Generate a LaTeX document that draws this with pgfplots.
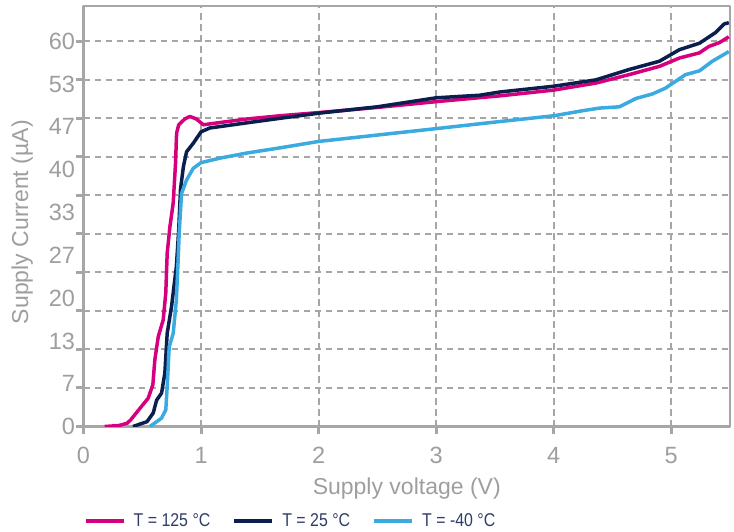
\documentclass[border=0pt]{standalone}
\usepackage{pgfplots}
\pgfplotsset{compat=1.18}
\usepackage{fontspec}
\setmainfont{Liberation Sans}
\newfontfamily\legfont{Liberation Sans}[FakeStretch=0.86]
\usetikzlibrary{calc}
\definecolor{gridgray}{HTML}{A6A6A6}
\definecolor{txtgray}{HTML}{9E9E9E}
\definecolor{stpink}{HTML}{D6007E}
\definecolor{stnavy}{HTML}{0B1F4F}
\definecolor{stblue}{HTML}{3AAAE1}
\definecolor{legtxt}{HTML}{2E3D69}
\begin{document}
\begin{tikzpicture}
\begin{axis}[
  scale only axis, width=646.5pt, height=420.5pt,
  xmin=0, xmax=5.5, ymin=0, ymax=65.5,
  /pgf/number format/assume math mode=true,
  axis line style={gridgray, line width=2.5pt},
  tick pos=left, tick align=outside,
  major tick length=7pt,
  tick style={gridgray, line width=3pt},
  xtick={0,1,2,3,4,5},
  ytick={0,6,...,60},
  yticklabels={,,,,,,,,,,},
  extra y ticks={0,6.6667,13.3333,20,26.6667,33.3333,40,46.6667,53.3333,60},
  extra y tick labels={0,7,13,20,27,33,40,47,53,60},
  extra y tick style={grid=none, major tick length=0pt, tick style={draw=none},
     yticklabel style={xshift=-5pt}},
  grid=major,
  major grid style={gridgray, line width=2pt, dash pattern=on 6.5pt off 4.5pt},
  ticklabel style={font=\fontsize{23.5}{27}\selectfont, text=txtgray},
  xticklabel style={yshift=-10pt},
  xlabel={Supply voltage (V)},
  ylabel={Supply Current (µA)},
  label style={font=\fontsize{23}{27}\selectfont, text=txtgray},
  xlabel style={yshift=-7pt},
  ylabel style={at={(ticklabel cs:0.486)}, yshift=2pt},
  legend columns=3,
  legend style={draw=none, fill=none, at={(0,0)}, anchor=west, yshift=-94.2pt,
     inner sep=0pt, font=\legfont\fontsize{18.5}{22}\selectfont, text=legtxt,
     nodes={inner xsep=0pt, inner ysep=2pt}},
  legend image code/.code={\draw[line width=4pt] (0pt,0pt) -- (38pt,0pt);},
  /tikz/every odd column/.append style={column sep=8pt},
  /tikz/every even column/.append style={column sep=22pt},
  line join=round,
]
\addplot[stpink, line width=3.5pt] coordinates {
(0.18,0) (0.30,0.15) (0.37,0.5) (0.40,1.0) (0.47,2.6) (0.55,4.4) (0.59,6.5)
(0.607,10.4) (0.636,14.0) (0.678,16.6) (0.70,20.8) (0.712,27.0) (0.735,31.1)
(0.763,34.8) (0.783,41.0) (0.792,45.7) (0.81,47.0) (0.862,47.9) (0.905,48.3)
(0.96,47.9) (1.02,47.0) (1.10,47.2) (1.39,47.9) (1.67,48.4) (2.0,48.9)
(2.5,49.7) (3.0,50.6) (3.54,51.5) (4.0,52.4) (4.36,53.5) (4.64,54.8)
(4.9,56.1) (5.07,57.4) (5.24,58.2) (5.32,59.2) (5.41,59.8) (5.49,60.7)
};
\addlegendentry{T = 125 °C}
\addplot[stnavy, line width=3.5pt] coordinates {
(0.42,0) (0.54,0.75) (0.593,2.1) (0.622,4.1) (0.664,5.2) (0.692,8.3)
(0.712,14.5) (0.749,18.7) (0.79,24.9) (0.81,30.6) (0.825,36.9) (0.85,40.5)
(0.877,42.8) (0.933,44.1) (1.0,45.9) (1.075,46.5) (1.39,47.3) (1.67,48.0)
(2.0,48.8) (2.5,49.8) (3.0,51.2) (3.37,51.6) (3.54,52.1) (4.0,53.0)
(4.36,54.0) (4.64,55.6) (4.90,56.9) (5.07,58.7) (5.24,59.7) (5.38,61.4)
(5.45,62.7) (5.49,62.9)
};
\addlegendentry{T = 25 °C}
\addplot[stblue, line width=3.5pt] coordinates {
(0.565,0) (0.664,1.3) (0.70,2.6) (0.712,6.2) (0.729,12.4) (0.763,14.5)
(0.79,19.7) (0.805,25.9) (0.814,30.1) (0.834,36.3) (0.877,38.4) (0.933,40.2)
(1.0,41.1) (1.16,41.8) (1.39,42.6) (1.67,43.4) (2.0,44.4) (2.5,45.4)
(3.0,46.4) (3.54,47.5) (4.0,48.4) (4.25,49.2) (4.39,49.6) (4.56,49.8)
(4.70,51.1) (4.84,51.8) (4.95,52.7) (5.12,54.8) (5.24,55.4) (5.35,56.9)
(5.49,58.4)
};
\addlegendentry{T = -40 °C}
\end{axis}
\pgfresetboundingbox
\path[use as bounding box] ($(current axis.south west)+(-83.5pt,-104.5pt)$) rectangle ($(current axis.north east)+(4pt,6pt)$);
\end{tikzpicture}
\end{document}
